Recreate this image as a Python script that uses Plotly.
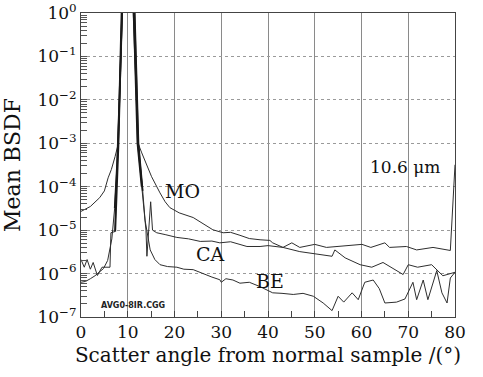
import plotly.graph_objects as go

# ---- data (angle in degrees, mean BSDF) ----
mo_angle = [0, 2, 4, 5, 5.8, 6.5, 7.3, 8.0, 8.6, 9.0, 10, 11, 11.5, 12.2, 13, 13.7,
            15.1, 16.9, 18, 19, 21, 24, 26, 28.2, 30.4, 32, 34, 36, 38.3, 40.4, 41,
            43.2, 46.8, 50.5, 53.7, 54.3, 56.5, 59.7, 62.2, 64.6, 67, 68.9, 70, 72,
            75, 77.4, 80]
mo_bsdf = [2.7e-5, 3.5e-5, 5.6e-5, 8e-5, 1.6e-4, 2.5e-4, 5e-4, 1e-3, 1e-1, 3, 10, 3,
           1e-1, 1e-3, 6e-4, 4e-4, 1.7e-4, 7.2e-5, 4.5e-5, 3.3e-5, 2.5e-5, 1.95e-5,
           1.4e-5, 1.02e-5, 8.7e-6, 8.9e-6, 7.6e-6, 6.4e-6, 6e-6, 5.8e-6, 5.1e-6,
           4e-6, 3.2e-6, 2.75e-6, 2.5e-6, 3.5e-6, 2.3e-6, 1.6e-6, 1.4e-6, 1.8e-6,
           1.26e-6, 9.5e-7, 1.6e-6, 1.4e-6, 1.6e-6, 8.9e-7, 1.07e-6]

ca_angle = [0, 0.7, 1.3, 2.0, 2.6, 3.5, 4.5, 5.5, 6.2, 6.4, 7.3, 7.6, 8.0, 8.7, 9.5,
            10.5, 11.3, 12.1, 13.0, 13.9, 14.1, 14.9, 15.3, 16.2, 18, 20.5, 23, 25.5,
            28, 29.7, 32, 34, 35.5, 38.3, 40, 43.2, 45.1, 46.8, 50, 52.5, 55, 57,
            60.1, 62, 65, 66, 69.6, 71.8, 75.3, 79, 80]
ca_bsdf = [2.1e-6, 1.4e-6, 2.1e-6, 1.26e-6, 1.8e-6, 9e-7, 1.4e-6, 1.4e-6, 1.4e-6,
           8.7e-6, 9.3e-6, 1e-4, 1e-3, 1, 10, 10, 1, 1e-3, 1e-4, 1e-5, 2.5e-6, 4.5e-5,
           1e-5, 8.7e-6, 7.9e-6, 6.8e-6, 6.3e-6, 5.5e-6, 5.6e-6, 5.1e-6, 5.4e-6,
           4.7e-6, 4.2e-6, 4.2e-6, 4.4e-6, 4e-6, 5.1e-6, 4e-6, 4.7e-6, 4e-6, 4.2e-6,
           4.4e-6, 4.7e-6, 4e-6, 5.1e-6, 4e-6, 4.2e-6, 3.5e-6, 4e-6, 3.4e-6, 3.2e-4]

be_angle = [0, 1, 2, 3, 4, 4.8, 5.7, 6.6, 7.2, 7.7, 8.2, 8.8, 9.5, 10.5, 11.5, 12.3,
            13.2, 13.7, 14.8, 15.8, 16.9, 18.5, 20.5, 22, 24, 26, 28, 29.7, 30, 31,
            32.5, 34, 36, 38.3, 41, 43, 45.4, 47.5, 49.7, 51.8, 53.7, 55, 56.2, 58,
            59.3, 60.7, 62.5, 63.8, 65, 67.5, 69.3, 71, 71.8, 73.2, 74.2, 76.1, 77.2,
            78.3, 79, 80]
be_bsdf = [6.3e-7, 6.6e-7, 7.6e-7, 8.9e-7, 1.1e-6, 1.3e-6, 2e-6, 6.3e-6, 3.2e-5,
           3.2e-4, 1e-2, 1, 10, 10, 1, 1e-3, 8e-5, 1.7e-5, 3.5e-6, 2.1e-6, 1.6e-6,
           1.45e-6, 1.4e-6, 1.26e-6, 1.23e-6, 1e-6, 8.3e-7, 7.2e-7, 6.3e-7, 7.6e-7,
           7.1e-7, 6e-7, 6.3e-7, 5e-7, 3.6e-7, 3.5e-7, 3.3e-7, 3.5e-7, 3e-7, 2.1e-7,
           1.4e-7, 3e-7, 2.2e-7, 3.6e-7, 2.5e-7, 6.3e-7, 7.1e-7, 4.5e-7, 2.1e-7,
           2.2e-7, 2.6e-7, 6.3e-7, 2.5e-7, 7.1e-7, 2.5e-7, 1.17e-6, 3.6e-7, 2.1e-7,
           7.9e-7, 1.07e-6]

x_ticks = [0, 10, 20, 30, 40, 50, 60, 70, 80]
y_ticks = [1e-7, 1e-6, 1e-5, 1e-4, 1e-3, 1e-2, 1e-1, 1]
y_tick_text = ["10<sup>−7</sup>", "10<sup>−6</sup>", "10<sup>−5</sup>", "10<sup>−4</sup>",
               "10<sup>−3</sup>", "10<sup>−2</sup>", "10<sup>−1</sup>", "10<sup>0</sup>"]
series_labels = ["MO", "CA", "BE"]

SERIF = "DejaVu Serif"
LINE = "#2e2e2e"

fig = go.Figure()
fig.add_trace(go.Scatter(x=mo_angle, y=mo_bsdf, mode="lines", name="MO",
                         line=dict(color=LINE, width=1)))
fig.add_trace(go.Scatter(x=ca_angle, y=ca_bsdf, mode="lines", name="CA",
                         line=dict(color=LINE, width=1)))
fig.add_trace(go.Scatter(x=be_angle, y=be_bsdf, mode="lines", name="BE",
                         line=dict(color=LINE, width=1)))
# the specular peaks of CA and BE look heavier in the reference
fig.add_trace(go.Scatter(x=ca_angle[10:19], y=ca_bsdf[10:19], mode="lines",
                         line=dict(color="#1a1a1a", width=2), hoverinfo="skip"))
fig.add_trace(go.Scatter(x=be_angle[8:17], y=be_bsdf[8:17], mode="lines",
                         line=dict(color="#1a1a1a", width=1.6), hoverinfo="skip"))

ann_font = dict(family=SERIF, size=19, color="#111")
fig.add_annotation(x=21.8, y=-4.11, text=series_labels[0], showarrow=False, font=ann_font)
fig.add_annotation(x=27.8, y=-5.56, text=series_labels[1], showarrow=False, font=ann_font)
fig.add_annotation(x=40.4, y=-6.16, text=series_labels[2], showarrow=False, font=ann_font)
fig.add_annotation(x=69.3, y=-3.54, text="10.6 μm", showarrow=False,
                   font=dict(family=SERIF, size=17, color="#111"))
fig.add_annotation(x=11.1, y=-6.74, text="<b>AVG0-8IR.CGG</b>", showarrow=False,
                   font=dict(family="DejaVu Sans", size=8, color="#222"))

fig.update_layout(
    width=483, height=377,
    margin=dict(l=81, r=28, t=13, b=60),
    paper_bgcolor="white", plot_bgcolor="white",
    showlegend=False,
    font=dict(family=SERIF, color="#111"),
)
fig.update_xaxes(
    range=[0, 80], tickvals=x_ticks, ticks="inside", ticklen=1, tickcolor="#444",
    tickfont=dict(family=SERIF, size=17), ticklabeloverflow="allow",
    showgrid=True, gridcolor="#8a8a8a", gridwidth=1,
    showline=True, linecolor="#444", linewidth=1, mirror=True,
    zeroline=False, automargin=False,
    minor=dict(dtick=5, ticks="inside", ticklen=6, tickcolor="#444", showgrid=False),
    title=dict(text="Scatter angle from normal sample /(°)",
               font=dict(family=SERIF, size=20), standoff=6),
)
fig.update_yaxes(
    type="log", range=[-7.0005, 0.0005], tickvals=y_ticks, ticktext=y_tick_text,
    ticks="inside", ticklen=1, tickcolor="#444",
    tickfont=dict(family=SERIF, size=17), ticklabeloverflow="allow",
    showgrid=True, gridcolor="#9a9a9a", gridwidth=1, griddash="dot",
    showline=True, linecolor="#444", linewidth=1, mirror=True,
    zeroline=False, automargin=False,
    minor=dict(dtick="D1", tickmode="linear", ticks="inside", ticklen=6,
               tickcolor="#555", showgrid=False),
    title=dict(text="Mean BSDF", font=dict(family=SERIF, size=22), standoff=12),
)

fig.write_html("out.html",
               config={"displayModeBar": False, "staticPlot": True},
               post_script="document.body.style.margin='0';document.body.style.overflow='hidden';")
